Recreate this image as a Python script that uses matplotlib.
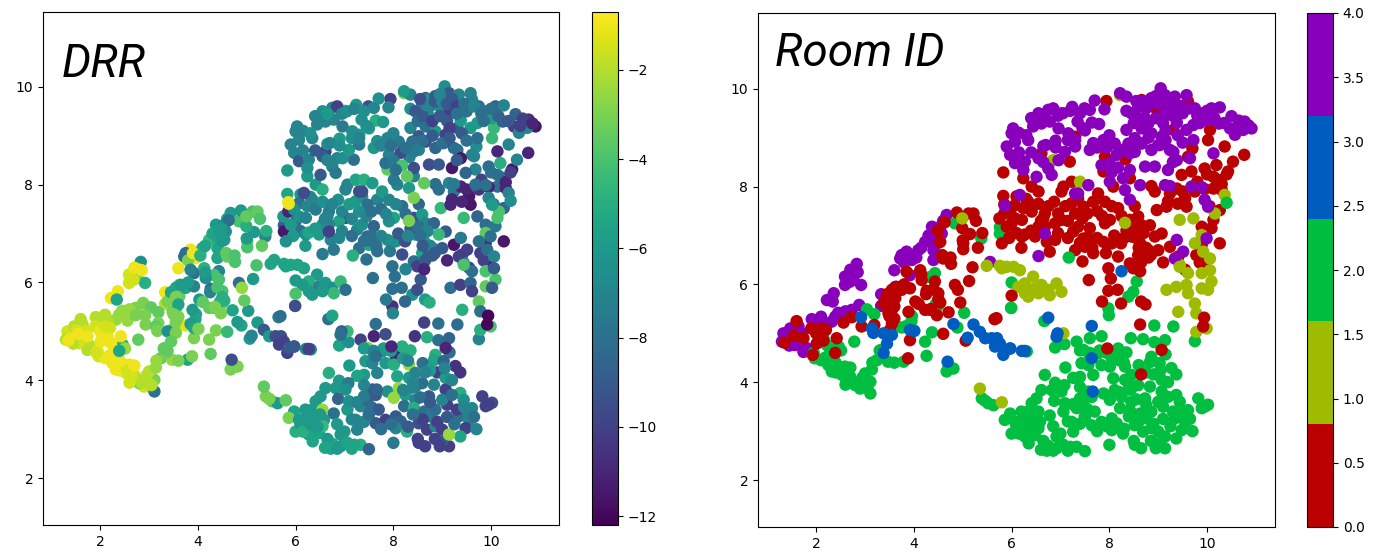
import numpy as np
import matplotlib
matplotlib.use("Agg")
import matplotlib.pyplot as plt
from matplotlib.cm import ScalarMappable
from matplotlib.colors import ListedColormap, Normalize

# each layer: embedding x, embedding y, DRR value. room id is in the layer name
wing_purple_x = [1.33, 1.47, 1.64, 1.30, 1.61, 1.57, 1.74, 1.91, 2.10, 2.08,
                 2.39, 2.53, 2.32, 2.73, 2.88, 2.83, 2.80, 2.59, 2.59, 2.76,
                 2.92, 2.36, 2.22, 2.34, 3.33, 3.33, 3.60, 3.62, 3.72, 3.85,
                 3.96, 4.09, 4.23, 4.40, 4.37, 4.67, 4.54, 4.57, 4.40, 4.40,
                 3.92, 5.56]
wing_purple_y = [5.00, 5.10, 5.14, 4.83, 4.90, 4.76, 4.62, 5.29, 5.34, 5.17,
                 5.34, 5.37, 5.24, 5.48, 5.58, 6.42, 6.26, 6.16, 5.99, 6.09,
                 5.99, 5.82, 5.68, 5.65, 5.80, 5.56, 6.29, 5.95, 6.53, 6.67,
                 6.50, 6.70, 6.87, 6.91, 7.18, 7.42, 7.18, 7.04, 6.50, 6.70,
                 6.19, 6.46]
wing_purple_drr = [-1.5, -2, -2, -2, -1.5, -1.5, -2, -2, -2, -2,
                   -2.5, -2.5, -2.5, -3, -3, -6.5, -1, -1.5, -1.5, -3,
                   -5, -1, -1, -5.5, -1, -2, -1, -3, -8, -1,
                   -1, -5, -4.5, -5.5, -6, -6, -7, -6.5, -5.5, -5.5,
                   -8, -5.5]

wing2_purple_x = [1.40, 1.52, 1.70, 1.45, 1.66, 1.80, 2.00, 2.15, 2.45, 2.60, 2.70,
                  2.68, 2.85, 3.75, 3.80, 3.90, 4.05, 4.15, 4.30, 4.45, 4.50, 4.60]
wing2_purple_y = [4.85, 5.03, 5.00, 4.75, 4.82, 4.70, 5.25, 5.20, 5.42, 5.45, 6.30,
                  6.05, 6.25, 6.60, 6.45, 6.60, 6.55, 6.75, 7.00, 7.05, 6.85, 7.30]
wing2_purple_drr = [-1, -1.5, -1.5, -2, -1.5, -2, -2, -2, -2.5, -2.5, -1,
                    -1.5, -1, -8, -3, -1, -5, -5.5, -5.5, -6, -6, -6]

wing_green_x = [3.04, 3.19, 2.78, 2.46, 2.51, 2.22, 2.29, 2.35, 1.97, 2.32,
                2.46, 2.59, 2.53, 2.70, 2.76, 2.90, 2.80, 3.11, 3.11, 3.00,
                3.14, 3.24, 3.47, 3.34, 3.75, 3.96, 3.79, 4.26, 4.23, 4.37,
                4.89, 5.03, 4.49, 4.43, 4.33, 4.84, 5.38, 5.76, 5.76, 4.71,
                4.67, 4.81, 6.00, 5.99]
wing_green_y = [5.49, 5.39, 4.83, 4.73, 4.65, 4.76, 4.62, 4.49, 4.49, 4.22,
                4.32, 4.32, 4.15, 4.11, 4.01, 3.87, 3.94, 3.77, 4.01, 4.18,
                4.26, 4.45, 4.42, 4.66, 5.12, 5.35, 4.42, 4.54, 4.83, 5.02,
                5.12, 5.42, 5.56, 6.23, 6.15, 7.25, 6.94, 7.17, 7.04, 4.32,
                4.22, 4.28, 6.04, 5.52]
wing_green_drr = [-3.5, -3.5, -3.5, -5, -2.5, -1, -1, -5.5, -1.5, -1,
                  -1, -1, -1.5, -1.5, -2, -1.5, -3, -8, -3, -2,
                  -2.5, -3.5, -2.5, -3.5, -1.2, -5.5, -5.5, -3.5, -3, -3,
                  -5.5, -6, -3, -7, -4, -4, -7, -9, -11.5, -3.5,
                  -3, -3, -6, -4]

wing2_green_x = [1.95, 2.10, 2.25, 2.30, 2.40, 2.55, 2.65, 2.70, 2.85, 2.95, 3.05,
                 3.15, 3.35, 3.60, 3.30, 2.60, 2.40, 2.15, 3.95, 4.45, 3.85, 2.18]
wing2_green_y = [4.60, 4.45, 4.35, 4.50, 4.20, 4.20, 4.05, 4.30, 3.95, 4.10, 3.90,
                 4.40, 4.55, 4.40, 4.65, 3.95, 4.40, 4.90, 5.25, 5.60, 5.15, 4.50]
wing2_green_drr = [-1, -1, -1, -1, -1, -1.5, -1.5, -1, -2, -2, -2,
                   -2.5, -3, -3, -3.5, -1.5, -1, -1, -5.5, -5, -6, -1]

wing_red_x = [1.35, 1.74, 1.90, 1.93, 2.05, 2.20, 2.01, 2.42, 2.39, 2.56,
              2.73, 2.93, 3.19, 3.55, 3.45, 3.62, 3.41, 3.55, 3.48, 3.55,
              3.51, 3.38, 3.75, 3.92, 3.85, 4.13, 4.16, 4.03, 3.89, 4.26,
              4.43, 4.50, 4.54, 4.23, 4.33, 4.47, 4.71, 3.92, 3.88, 4.60,
              5.06, 4.84, 4.90, 5.13, 4.95, 5.65, 5.20, 4.76, 4.58, 4.60,
              5.01, 5.01, 5.31, 5.15, 4.99, 4.63, 4.49, 4.54, 4.88, 5.12,
              5.22, 5.27, 5.83, 5.83, 5.85]
wing_red_y = [4.81, 4.90, 5.10, 4.56, 4.93, 5.07, 4.79, 4.90, 4.60, 5.22,
              5.33, 5.14, 5.17, 5.89, 5.68, 5.72, 5.61, 5.48, 5.41, 5.20,
              5.07, 5.61, 5.89, 5.92, 6.26, 6.29, 6.09, 5.65, 5.44, 5.87,
              6.06, 5.82, 5.63, 5.48, 5.48, 5.37, 5.43, 4.86, 4.49, 4.99,
              4.85, 5.99, 5.89, 6.07, 5.63, 5.29, 6.35, 6.42, 6.60, 6.53,
              6.84, 6.72, 6.75, 7.03, 7.15, 7.27, 7.10, 6.87, 7.47, 7.45,
              7.45, 7.30, 8.29, 7.81, 7.64]
wing_red_drr = [-1, -1, -1.5, -1.5, -1, -1.5, -1, -1, -5.5, -2.5,
                -3, -3, -3, -5.5, -5, -3.5, -3, -5.5, -3, -3,
                -3, -3, -5.5, -7, -7, -5, -6.5, -6, -6, -8,
                -4, -4, -5, -3.5, -3.5, -3, -5.5, -3, -3, -4.5,
                -6, -8, -2.5, -6, -3.5, -7.5, -4, -4, -3.5, -3.5,
                -3.5, -4, -3.5, -6, -5, -8, -6, -6, -6, -4,
                -3.5, -4, -6, -5.5, -1]

wing2_red_x = [3.45, 3.55, 3.60, 3.50, 3.65, 3.80, 3.60, 4.10, 4.25, 4.40,
               4.50, 4.35, 4.15, 2.15, 2.00, 2.10, 1.55, 1.60, 4.75, 5.00,
               5.40, 6.00, 6.10, 5.95, 5.75, 5.85, 6.20, 5.95, 6.10]
wing2_red_y = [5.80, 5.70, 5.55, 5.35, 5.95, 6.00, 5.30, 5.60, 5.80, 5.90,
               5.70, 5.50, 6.20, 4.85, 5.00, 5.10, 4.95, 5.25, 6.55, 6.90,
               7.05, 7.25, 7.05, 6.95, 7.35, 7.45, 6.75, 7.55, 7.80]
wing2_red_drr = [-5.5, -3, -5.5, -3, -6, -6, -3, -3.5, -7, -4,
                 -5, -3, -6, -1, -1, -1.5, -1, -2, -4, -6,
                 -5, -8, -8, -6, -6, -11, -6, -7, -6]

wing_blue_x = [2.92, 3.14, 3.17, 3.38, 3.55, 3.45, 3.38, 3.92, 4.01, 4.81,
               5.22, 5.10, 5.35, 5.46, 5.59, 5.70, 5.76, 5.66, 5.83, 5.97,
               4.69]
wing_blue_y = [5.33, 5.10, 5.01, 5.00, 4.97, 4.79, 4.60, 5.07, 5.05, 5.19,
               5.18, 4.91, 5.03, 4.90, 4.90, 4.90, 4.79, 4.73, 4.56, 4.69,
               4.42]
wing_blue_drr = [-3, -3.5, -3, -6.5, -3, -3.5, -3.5, -5.5, -3, -6,
                 -6, -7, -9, -6, -9.5, -9.5, -10, -10, -10, -10,
                 -9.5]

wing_olive_x = [4.99, 5.49, 5.76, 5.90, 6.04, 5.35]
wing_olive_y = [7.35, 6.38, 6.38, 6.36, 6.36, 3.87]
wing_olive_drr = [-3.5, -5.5, -5.5, -5.5, -5.5, -3.5]

foot_green_x = [5.39, 5.52, 5.63, 5.46]
foot_green_y = [3.67, 3.57, 3.53, 3.62]
foot_green_drr = [-3, -3.5, -6, -3]

upper_red_x = [6.24, 6.41, 6.55, 7.06, 7.23, 7.02, 6.07, 5.97, 6.34, 6.24,
               6.07, 5.90, 5.80, 6.21, 6.41, 6.68, 6.87, 7.23, 7.36, 7.67,
               7.47, 7.77, 7.91, 8.18, 8.52, 8.01, 7.91, 8.42, 8.59, 8.66,
               8.83, 8.97, 9.17, 8.86, 8.93, 9.24, 9.38, 9.55, 9.58, 9.89,
               10.09, 10.13, 10.26, 9.75, 10.13, 10.30, 10.13, 9.95, 9.68, 9.48,
               10.43, 10.53, 10.76, 10.19, 9.70, 10.02, 10.06, 10.36, 9.61, 9.31,
               8.98, 8.66, 9.61, 8.64, 7.94, 7.30, 7.19, 7.91, 8.33, 7.88,
               8.42, 8.08, 6.61, 6.21, 6.48, 6.72, 6.89, 6.78, 6.27, 7.02,
               6.89, 6.68, 7.26, 7.36, 7.60, 7.47, 7.30, 7.50, 7.67, 7.45,
               7.88, 8.05, 7.93, 8.24, 8.45, 8.18, 8.63, 8.80, 8.59, 8.73,
               8.42, 9.07, 8.93, 9.24, 9.89, 10.26, 9.41, 9.78, 9.95, 7.98,
               8.49, 6.55]
upper_red_y = [8.17, 8.00, 7.90, 8.00, 8.10, 7.90, 7.62, 7.49, 7.69, 7.56,
               7.35, 7.18, 6.84, 7.32, 7.49, 7.45, 7.69, 7.66, 7.76, 7.69,
               7.59, 7.86, 7.69, 7.56, 7.60, 7.32, 7.25, 7.32, 7.39, 7.21,
               7.21, 7.52, 7.59, 8.01, 7.90, 7.86, 7.96, 7.76, 7.59, 7.18,
               7.15, 7.32, 7.52, 7.90, 7.96, 7.93, 8.20, 8.37, 8.31, 8.24,
               8.31, 8.51, 8.65, 8.44, 8.78, 8.95, 9.16, 8.82, 8.61, 9.16,
               9.55, 9.77, 9.74, 9.31, 9.75, 9.02, 8.51, 8.61, 8.56, 8.31,
               8.17, 8.00, 8.68, 6.98, 6.98, 6.87, 6.91, 6.67, 7.02, 7.32,
               7.25, 7.18, 7.08, 7.18, 7.15, 6.94, 6.70, 6.77, 6.64, 6.47,
               6.87, 6.84, 6.64, 6.84, 6.98, 6.57, 6.84, 6.70, 6.60, 6.57,
               6.43, 7.04, 6.98, 6.77, 6.81, 6.84, 6.57, 6.60, 6.40, 6.33,
               6.33, 7.18]
upper_red_drr = [-6, -6, -5, -7, -5.5, -7, -8, -6.5, -7, -7,
                 -6.5, -6, -6.5, -7, -7.5, -7.5, -6.5, -6, -6.5, -7,
                 -8, -6, -7, -8, -8.5, -5.5, -6.5, -9.5, -6, -7,
                 -8.5, -4.5, -11, -8, -8, -7.5, -11, -11.5, -11.5, -8,
                 -7.5, -4, -8.5, -10.5, -8, -11, -8, -8, -7, -8.5,
                 -11.5, -7, -11, -5, -6.5, -4.5, -4.5, -7, -7, -9,
                 -7, -9, -7, -8, -10, -6, -8, -7, -7, -3.5,
                 -7, -7, -10, -6.5, -6, -7, -7, -7.5, -5.5, -10,
                 -5.5, -7, -7, -6.5, -8.5, -8.5, -8, -5.5, -8, -8,
                 -6.5, -6.5, -7.5, -9.5, -6, -9.5, -6, -8, -5.5, -9,
                 -8, -9, -4.5, -11.5, -11, -11.5, -10, -10, -12, -8,
                 -10, -6.5]

upper2_red_x = [6.30, 6.55, 6.65, 6.75, 6.95, 7.10, 7.15, 7.30, 7.45, 7.55,
                7.75, 7.85, 8.05, 8.25, 8.35, 8.50, 8.70, 8.75, 8.55, 8.80,
                9.00, 9.20, 9.40, 9.50, 9.80, 10.00, 10.20, 10.30, 10.40, 9.95,
                6.40, 6.60, 6.95, 7.15, 7.40, 7.55, 7.75, 8.10, 8.30, 8.60,
                8.85, 9.10, 7.55, 7.65, 8.65, 9.55, 9.85, 10.05]
upper2_red_y = [7.75, 7.65, 7.35, 7.60, 7.45, 7.60, 7.30, 7.45, 7.35, 7.45,
                7.50, 7.40, 7.60, 7.40, 7.10, 7.15, 7.05, 6.75, 6.95, 6.55,
                6.70, 7.70, 7.65, 7.90, 8.10, 8.25, 8.15, 8.05, 8.25, 7.95,
                7.10, 7.30, 7.05, 6.95, 6.85, 6.95, 6.95, 7.00, 6.95, 6.75,
                6.60, 6.45, 6.85, 6.75, 6.45, 6.30, 6.45, 7.60]
upper2_red_drr = [-7, -6.5, -7, -7, -7, -6, -7, -6.5, -7, -8,
                  -8, -7, -7, -8, -9, -8, -7, -7, -8, -9,
                  -9, -11, -11, -11, -10, -8, -8, -11, -10, -11,
                  -6, -7, -7, -8, -8, -8, -7, -9, -7, -9,
                  -9, -11, -8, -8, -9, -10, -10, -8]

upper_olive_x = [6.99, 8.22, 7.40, 6.85, 10.36, 10.16, 9.44, 9.72, 9.89, 9.92,
                 10.06, 9.75, 9.44, 8.32]
upper_olive_y = [9.51, 9.87, 8.10, 8.54, 7.83, 7.45, 7.32, 7.35, 7.01, 6.67,
                 6.53, 6.84, 6.40, 7.26]
upper_olive_drr = [-3.5, -3, -5, -7, -7, -4, -4.5, -8.5, -3.5, -8,
                   -7, -8, -7, -3]

upper_green_x = [10.40, 7.17]
upper_green_y = [7.67, 6.55]
upper_green_drr = [-6.5, -5]

upper_purple_x = [6.03, 6.00, 6.07, 5.90, 5.97, 6.07, 6.27, 6.24, 6.55, 6.51,
                  6.75, 6.82, 6.17, 5.86, 6.34, 6.65, 6.90, 6.96, 7.09, 7.30,
                  7.60, 7.67, 7.88, 8.11, 8.15, 7.84, 8.01, 8.18, 8.42, 8.28,
                  8.01, 8.32, 8.63, 9.14, 9.24, 9.68, 9.89, 9.95, 10.02, 7.30,
                  7.36, 7.57, 6.55, 6.75, 6.85, 6.44, 6.61, 6.78, 6.96, 7.16,
                  7.24, 7.35, 7.49, 7.60, 7.70, 7.90, 7.64, 7.79, 8.35, 8.35,
                  8.22, 8.59, 8.69, 8.86, 9.05, 9.14, 9.34, 9.58, 9.75, 8.73,
                  9.14, 9.38, 10.09, 10.26, 10.50, 10.24, 10.47, 10.77, 10.91, 10.57,
                  10.74, 9.92, 10.02, 9.58, 9.72, 9.72, 8.35, 8.52, 8.66, 8.86,
                  9.07, 9.24, 9.31, 8.39, 8.66, 8.86, 9.03, 8.73, 8.93, 9.20,
                  9.38, 9.65, 10.13, 8.52, 8.42, 9.38, 9.51, 9.34, 9.99, 6.68,
                  6.55, 8.42]
upper_purple_y = [9.19, 9.09, 8.92, 8.82, 8.65, 8.48, 8.51, 8.34, 8.58, 8.20,
                  8.37, 8.24, 7.83, 7.61, 8.95, 8.83, 8.94, 8.54, 8.71, 8.82,
                  8.75, 8.89, 8.95, 8.88, 8.65, 8.44, 8.48, 8.39, 8.34, 8.17,
                  8.10, 7.93, 8.03, 8.03, 8.01, 8.00, 7.99, 7.73, 7.59, 7.86,
                  7.86, 8.03, 9.50, 9.57, 9.60, 9.23, 9.29, 9.33, 9.19, 9.09,
                  9.63, 9.33, 9.60, 9.57, 9.76, 9.58, 9.31, 9.28, 9.55, 9.84,
                  9.91, 9.63, 9.74, 9.81, 10.01, 9.87, 9.84, 9.87, 9.60, 9.40,
                  9.46, 9.31, 9.60, 9.62, 9.44, 9.29, 9.19, 9.33, 9.19, 9.06,
                  9.16, 9.50, 9.36, 9.16, 9.26, 8.95, 9.16, 8.99, 9.19, 9.09,
                  9.02, 8.75, 8.71, 8.88, 8.88, 8.75, 8.85, 8.41, 8.41, 8.34,
                  8.54, 8.58, 8.68, 8.71, 8.68, 6.91, 6.67, 6.53, 6.94, 7.04,
                  6.58, 7.73]
upper_purple_drr = [-7, -7, -7, -7, -7, -9, -7, -6.5, -9, -9,
                    -7, -7.5, -9.5, -1, -7, -6.5, -6, -6.5, -6, -7.5,
                    -6, -6.5, -7, -7.5, -9.5, -8, -7.5, -4, -9.5, -3.5,
                    -7.5, -6, -3.5, -7, -7.5, -8, -8, -7, -6, -9.5,
                    -9.5, -6, -6.5, -7, -10, -7, -7, -7, -7.5, -6.5,
                    -6, -6.5, -9.5, -7, -6.5, -7, -5, -6, -6.5, -7,
                    -6, -7, -6.5, -9, -6.5, -9, -7, -7, -8, -6.5,
                    -10, -6, -8.5, -7, -8.5, -8.5, -10, -10.5, -11.5, -7,
                    -7, -7.5, -6, -6, -6, -8, -7, -9, -8, -6,
                    -10, -8, -8, -8, -9.5, -8.5, -9.5, -9.5, -9, -11.5,
                    -11.5, -7, -11, -7, -7.5, -7.5, -10, -10, -8, -10,
                    -7.5, -3]

upper2_purple_x = [8.45, 8.55, 8.75, 8.85, 8.95, 9.00, 9.10, 9.20, 9.30, 9.45,
                   9.50, 9.65, 9.80, 9.85, 10.00, 10.15, 10.35, 10.60, 10.65, 10.85,
                   8.50, 8.60, 8.80, 8.95, 9.10, 9.15, 9.30, 9.40, 9.50, 8.60,
                   8.80, 9.00, 9.15, 9.30, 6.15, 6.30, 6.40, 6.65, 6.70, 6.95,
                   7.05, 7.20, 7.40, 7.50, 7.45, 7.75, 7.95, 8.00, 8.25, 8.05,
                   6.15, 6.40, 6.65, 6.90, 7.15, 7.30]
upper2_purple_y = [9.50, 9.75, 9.60, 9.70, 9.85, 9.70, 9.65, 9.75, 9.60, 9.65,
                   9.50, 9.60, 9.45, 9.30, 9.55, 9.40, 9.30, 9.20, 9.35, 9.25,
                   9.30, 9.40, 9.30, 9.40, 9.30, 9.15, 9.45, 9.05, 8.90, 8.90,
                   9.00, 8.85, 8.95, 8.50, 9.10, 9.05, 9.40, 9.45, 8.85, 9.45,
                   9.50, 9.55, 9.50, 9.15, 9.20, 8.80, 8.80, 9.05, 8.75, 8.30,
                   8.70, 8.70, 8.50, 8.80, 8.95, 8.95]
upper2_purple_drr = [-9, -9.5, -7, -9, -7, -7, -9, -9, -10, -8,
                     -8, -7, -8, -8, -8, -8.5, -9, -10, -10, -11,
                     -8, -9, -10, -9, -9, -10, -8, -9, -8, -8,
                     -9, -8, -9, -9, -7, -6.5, -7, -6, -7, -7,
                     -6.5, -7, -6.5, -6, -6.5, -7, -8, -7, -8, -8,
                     -7, -9, -7, -6.5, -6.5, -7]

lower_green_x = [5.99, 6.67, 6.31, 8.56, 8.39, 8.49, 7.98, 7.99, 6.89, 7.08,
                 7.33, 7.60, 7.84, 7.47, 7.43, 7.67, 7.40, 7.26, 7.57, 7.77,
                 7.84, 8.05, 8.01, 8.18, 8.35, 8.44, 8.32, 8.08, 8.32, 8.69,
                 8.92, 9.31, 8.92, 9.14, 9.15, 8.86, 8.83, 9.03, 9.27, 9.37,
                 8.90, 9.75, 6.68, 6.89, 7.08, 6.82, 7.02, 6.61, 6.51, 6.87,
                 6.41, 6.34, 6.55, 6.78, 5.97, 5.86, 6.07, 6.24, 6.41, 6.58,
                 6.00, 6.17, 6.27, 6.48, 6.55, 6.92, 6.75, 6.92, 7.06, 7.33,
                 7.50, 7.06, 7.09, 7.33, 7.47, 7.64, 7.88, 8.11, 8.01, 8.25,
                 8.45, 8.59, 8.83, 9.07, 9.07, 8.73, 8.45, 8.22, 8.42, 8.63,
                 9.10, 9.37, 9.44, 9.82, 10.02, 9.89, 9.61, 7.23, 7.26, 7.50,
                 7.64, 7.84, 8.05, 8.15, 8.05, 8.28, 8.52, 8.76, 8.86, 9.34,
                 9.55, 9.48, 9.37, 8.52, 8.69, 8.86, 9.00, 9.14, 9.00, 8.00,
                 7.57, 7.40, 9.14]
lower_green_y = [5.52, 5.25, 4.63, 6.06, 5.75, 5.85, 5.51, 5.37, 4.71, 4.78,
                 4.83, 4.90, 4.94, 4.66, 4.39, 4.15, 4.11, 4.09, 4.35, 4.59,
                 4.35, 4.49, 4.32, 4.69, 4.61, 4.90, 4.32, 4.08, 4.05, 4.88,
                 5.16, 5.14, 4.82, 4.86, 4.57, 4.52, 4.41, 4.39, 4.29, 4.16,
                 4.16, 4.84, 4.15, 3.99, 3.94, 3.84, 3.81, 3.84, 3.67, 3.62,
                 3.57, 3.40, 3.40, 3.32, 3.36, 3.23, 3.19, 3.26, 3.19, 3.19,
                 2.95, 3.06, 2.89, 2.92, 3.06, 2.89, 2.70, 2.65, 2.72, 2.68,
                 2.59, 3.40, 3.57, 3.47, 3.60, 3.70, 3.77, 3.84, 3.64, 3.70,
                 3.87, 3.94, 3.91, 4.05, 3.81, 3.67, 3.60, 3.47, 3.43, 3.36,
                 3.50, 3.74, 3.60, 3.67, 3.54, 3.47, 3.43, 3.19, 2.99, 3.30,
                 3.12, 3.19, 3.26, 3.16, 3.02, 2.95, 3.12, 3.26, 3.40, 3.26,
                 3.19, 3.02, 2.85, 2.72, 2.99, 3.06, 2.99, 2.65, 2.75, 2.72,
                 3.81, 3.67, 2.89]
lower_green_drr = [-9.5, -8, -6.5, -9, -6.5, -9.5, -10.5, -7, -5.5, -6.5,
                   -10, -11, -9.5, -3, -6, -7, -6, -5.5, -7, -6.5,
                   -6, -11, -5, -5, -5, -10.5, -2.5, -5.5, -6, -5,
                   -8, -8, -8, -8.5, -8, -5, -5.5, -8.5, -10.5, -10.5,
                   -10, -7, -5, -6, -7.5, -6, -6.5, -6, -6, -8.5,
                   -6, -6, -2.5, -8, -5.5, -3, -6, -6, -6, -6,
                   -5, -6, -5.5, -5.5, -4.5, -6, -5.5, -6, -5.5, -5,
                   -8.5, -6, -6.5, -7, -8.5, -9, -6.5, -2.5, -2.5, -6,
                   -7.5, -8, -7, -6, -10, -9, -7, -8, -5, -8,
                   -10, -5, -6.5, -10, -9.5, -10, -7, -7, -7, -8.5,
                   -9, -10, -9, -8.5, -7, -5, -9.5, -7.5, -8, -8,
                   -7, -10, -5.5, -10, -10, -7, -10, -10, -9, -7.5,
                   -9, -7.5, -2.5]

lower2_green_x = [6.10, 6.15, 6.30, 6.45, 6.50, 6.65, 6.72, 6.20, 6.35, 6.85,
                  7.15, 7.20, 7.40, 7.55, 7.70, 7.75, 7.95, 8.20, 8.40, 8.55,
                  8.60, 8.75, 8.90, 9.00, 9.20, 9.30, 9.45, 9.55, 9.65, 9.70,
                  9.95, 8.50, 8.65, 8.40, 8.30, 8.85, 8.95, 9.10, 9.25, 7.10,
                  7.40, 7.60, 7.80, 7.95, 8.20, 8.60, 8.75, 8.45, 8.30, 7.60,
                  7.50, 6.60, 6.85, 7.15, 7.25, 7.40, 7.00, 9.05, 9.20, 8.40]
lower2_green_y = [3.10, 2.95, 3.10, 3.05, 3.30, 2.80, 2.60, 3.40, 2.75, 3.10,
                  2.60, 2.68, 3.15, 3.45, 3.40, 3.00, 3.10, 3.80, 3.95, 3.65,
                  3.20, 3.55, 3.15, 3.60, 4.00, 3.40, 3.45, 3.30, 3.25, 3.00,
                  3.50, 2.80, 2.65, 3.30, 3.05, 2.80, 2.65, 3.25, 3.10, 4.30,
                  4.65, 4.55, 4.65, 4.60, 4.45, 4.35, 4.20, 4.15, 4.40, 4.60,
                  3.30, 2.62, 2.60, 3.20, 3.55, 3.90, 2.95, 4.25, 3.70, 3.85]
lower2_green_drr = [-6, -5, -6, -6, -6, -6, -5.5, -6, -5.5, -6,
                    -5.5, -5.5, -7, -8, -9, -8, -8, -7, -7, -8,
                    -10, -9, -10, -7, -7, -10, -7, -7, -8, -7,
                    -10, -10, -10, -8, -9, -10, -10, -9, -8, -6,
                    -6, -7, -6, -6, -6, -8, -6, -7, -7, -7,
                    -8, -5.5, -6, -7, -7, -7, -6, -7, -8, -7]

lower_olive_x = [6.44, 6.27, 6.14, 6.27, 6.48, 6.61, 6.75, 6.92, 7.02, 6.78,
                 6.34, 6.55, 5.80, 6.17, 9.17, 9.37, 9.58, 9.61, 9.89, 10.09,
                 10.02, 9.89, 10.06, 9.61, 9.44, 9.75, 9.41, 9.78, 9.78, 9.99,
                 5.80, 7.06]
lower_olive_y = [6.16, 6.02, 5.95, 5.82, 5.92, 5.99, 5.89, 6.02, 5.85, 5.78,
                 5.75, 5.82, 6.33, 6.29, 5.89, 5.95, 5.99, 5.82, 5.92, 6.06,
                 5.89, 6.23, 6.29, 6.23, 6.36, 5.61, 5.44, 5.41, 5.03, 5.10,
                 3.59, 5.00]
lower_olive_drr = [-6, -5, -6, -6, -7, -6, -6.5, -4.5, -8, -4.5,
                   -6, -6, -5.5, -5.5, -8, -10, -8.5, -10, -3.5, -4,
                   -9, -4, -9, -8, -4, -3.5, -5, -8, -5, -4,
                   -3.5, -4.5]

lower_red_x = [7.58, 8.03, 7.98, 8.17, 7.85, 8.24, 8.65, 8.74, 8.63, 8.63,
               5.69, 6.00, 7.96, 9.07, 8.65, 9.94, 9.92]
lower_red_y = [6.09, 6.12, 5.87, 5.89, 5.65, 5.61, 5.65, 5.59, 5.18, 6.27,
               5.31, 5.77, 4.69, 4.66, 4.16, 5.32, 5.14]
lower_red_drr = [-8, -8, -8, -8, -7.5, -8.5, -6, -5, -10, -11,
                 -8, -4, -11, -11, -7, -12, -12]

lower_blue_x = [8.25, 6.75, 6.94, 6.92, 7.64, 6.21, 6.27, 7.64, 7.66, 5.97,
                5.86]
lower_blue_y = [6.27, 5.32, 5.00, 4.93, 5.15, 4.64, 4.64, 4.49, 3.81, 4.69,
                4.66]
lower_blue_drr = [-7, -5.5, -8.5, -8, -8, -7, -10, -8, -8.5, -9,
                  -9]

room_colors = ["#BB0000", "#9FBB00", "#00BF40", "#005CBF", "#8800BB"]
xticks = [2, 4, 6, 8, 10]
yticks = [2, 4, 6, 8, 10]
drr_ticks = [-12, -10, -8, -6, -4, -2]
room_ticks = [0.0, 0.5, 1.0, 1.5, 2.0, 2.5, 3.0, 3.5, 4.0]

# layers in drawing order
layers = [
    (wing_purple_x, wing_purple_y, wing_purple_drr, 4),
    (wing2_purple_x, wing2_purple_y, wing2_purple_drr, 4),
    (wing_green_x, wing_green_y, wing_green_drr, 2),
    (wing2_green_x, wing2_green_y, wing2_green_drr, 2),
    (foot_green_x, foot_green_y, foot_green_drr, 2),
    (wing_red_x, wing_red_y, wing_red_drr, 0),
    (wing2_red_x, wing2_red_y, wing2_red_drr, 0),
    (wing_blue_x, wing_blue_y, wing_blue_drr, 3),
    (wing_olive_x, wing_olive_y, wing_olive_drr, 1),
    (upper_red_x, upper_red_y, upper_red_drr, 0),
    (upper2_red_x, upper2_red_y, upper2_red_drr, 0),
    (upper_olive_x, upper_olive_y, upper_olive_drr, 1),
    (upper_green_x, upper_green_y, upper_green_drr, 2),
    (upper_purple_x, upper_purple_y, upper_purple_drr, 4),
    (upper2_purple_x, upper2_purple_y, upper2_purple_drr, 4),
    (lower_green_x, lower_green_y, lower_green_drr, 2),
    (lower2_green_x, lower2_green_y, lower2_green_drr, 2),
    (lower_olive_x, lower_olive_y, lower_olive_drr, 1),
    (lower_red_x, lower_red_y, lower_red_drr, 0),
    (lower_blue_x, lower_blue_y, lower_blue_drr, 3),
]

x = np.concatenate([l[0] for l in layers])
y = np.concatenate([l[1] for l in layers])
drr = np.concatenate([l[2] for l in layers])
room = np.concatenate([np.full(len(l[0]), l[3]) for l in layers])

W, H = 1373, 553


def box(left, top, right, bottom):
    return [left / W, 1 - bottom / H, (right - left) / W, (bottom - top) / H]


fig = plt.figure(figsize=(W / 100, H / 100), dpi=100)

ax1 = fig.add_axes(box(43, 12, 559, 525))
cax1 = fig.add_axes(box(592, 12, 618, 525))
ax2 = fig.add_axes(box(758, 13, 1275, 527))
cax2 = fig.add_axes(box(1307, 13, 1333, 527))

drr_norm = Normalize(-12.2, -0.7)
ax1.scatter(x, y, c=drr, cmap="viridis", norm=drr_norm, s=80, linewidths=0)
ax1.set_xlim(0.83, 11.39)
ax1.set_ylim(1.04, 11.53)
cb1 = fig.colorbar(ScalarMappable(norm=drr_norm, cmap="viridis"), cax=cax1)
cb1.set_ticks(drr_ticks)

room_cmap = ListedColormap(room_colors)
room_norm = Normalize(0, 4)
ax2.scatter(x, y, c=room, cmap=room_cmap, norm=room_norm, s=80, linewidths=0)
ax2.set_xlim(0.81, 11.39)
ax2.set_ylim(1.04, 11.55)
cb2 = fig.colorbar(ScalarMappable(norm=room_norm, cmap=room_cmap), cax=cax2)
cb2.set_ticks(room_ticks)

for ax in (ax1, ax2):
    ax.set_xticks(xticks)
    ax.set_yticks(yticks)

fig.text(62 / W, 1 - 77 / H, "DRR", family="Roboto", style="italic", fontsize=33)
fig.text(775 / W, 1 - 66 / H, "Room ID", family="Roboto", style="italic", fontsize=33)

fig.savefig("out.png", dpi=100)
